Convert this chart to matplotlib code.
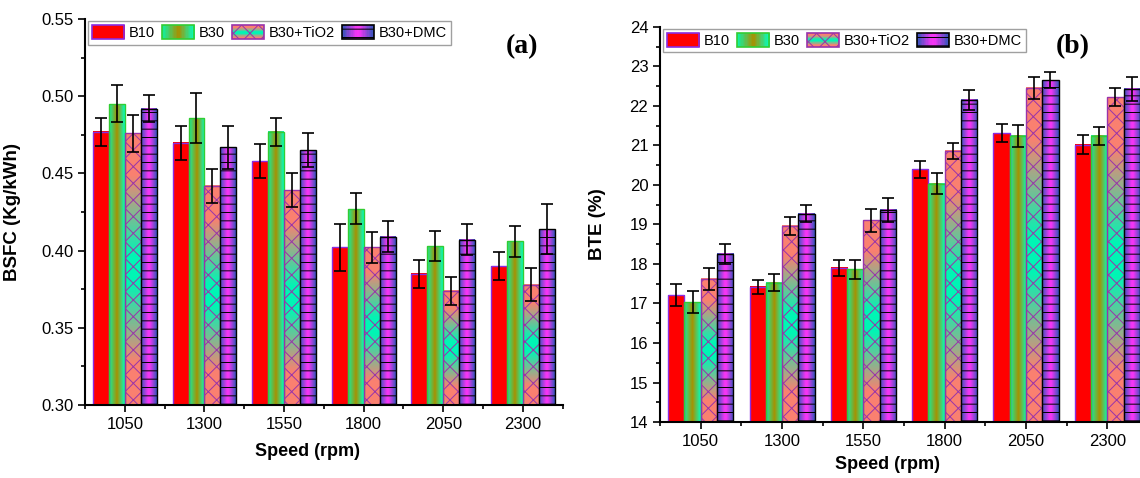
import numpy as np
import matplotlib.pyplot as plt
from matplotlib.colors import to_rgb
from matplotlib.patches import Rectangle
from matplotlib.legend_handler import HandlerBase

plt.rcParams['font.family'] = ['Liberation Sans', 'DejaVu Sans']
plt.rcParams['hatch.linewidth'] = 0.7

speeds = ['1050', '1300', '1550', '1800', '2050', '2300']
fuels = ['B10', 'B30', 'B30+TiO2', 'B30+DMC']

# (a) BSFC, kg/kWh
bsfc_b10 = [0.477, 0.470, 0.458, 0.402, 0.385, 0.390]
bsfc_b30 = [0.495, 0.486, 0.477, 0.427, 0.403, 0.406]
bsfc_tio2 = [0.476, 0.442, 0.439, 0.402, 0.374, 0.378]
bsfc_dmc = [0.492, 0.467, 0.465, 0.409, 0.407, 0.414]
bsfc_err_b10 = [0.009, 0.011, 0.011, 0.015, 0.009, 0.009]
bsfc_err_b30 = [0.012, 0.016, 0.009, 0.010, 0.010, 0.010]
bsfc_err_tio2 = [0.012, 0.011, 0.011, 0.010, 0.009, 0.011]
bsfc_err_dmc = [0.009, 0.014, 0.011, 0.010, 0.010, 0.016]

# (b) BTE, %
bte_b10 = [17.21, 17.42, 17.90, 20.39, 21.31, 21.02]
bte_b30 = [17.03, 17.53, 17.86, 20.03, 21.24, 21.24]
bte_tio2 = [17.62, 18.97, 19.10, 20.86, 22.46, 22.22]
bte_dmc = [18.25, 19.27, 19.37, 22.15, 22.65, 22.43]
bte_err_b10 = [0.28, 0.17, 0.20, 0.21, 0.22, 0.23]
bte_err_b30 = [0.28, 0.22, 0.24, 0.26, 0.27, 0.23]
bte_err_tio2 = [0.29, 0.23, 0.30, 0.21, 0.28, 0.23]
bte_err_dmc = [0.25, 0.21, 0.30, 0.26, 0.21, 0.30]

# fill style per fuel: colour stops, vertical?, hatch, edge colour
styles = [
    ([(0, '#ff0000'), (1, '#ff0000')], False, None, '#8a2be2'),
    ([(0, '#10f0a0'), (0.5, '#a89000'), (1, '#00ffc0')], False, None, '#33cc33'),
    ([(0, '#fa8070'), (0.15, '#fa8070'), (0.45, '#00f5b5'), (0.55, '#00f5b5'),
      (0.85, '#fa8070'), (1, '#fa8070')], True, 'xx', '#9933aa'),
    ([(0, '#3355bb'), (0.45, '#f535f5'), (0.55, '#f535f5'), (1, '#3355bb')], False, '--', 'black'),
]


def gradient(stops, vertical, n=100):
    pos = [s[0] for s in stops]
    cols = np.array([to_rgb(s[1]) for s in stops])
    t = np.linspace(0, 1, n)
    rgb = np.stack([np.interp(t, pos, cols[:, k]) for k in range(3)], axis=-1)
    return rgb[:, None, :] if vertical else rgb[None, :, :]


class Swatch:
    def __init__(self, style):
        self.style = style


class SwatchHandler(HandlerBase):
    def create_artists(self, legend, orig_handle, xdescent, ydescent,
                       width, height, fontsize, trans):
        stops, vertical, hatch, edge = orig_handle.style
        n = 24
        img = gradient(stops, vertical, n)
        arts = []
        for k in range(n):
            c = img[k, 0] if vertical else img[0, k]
            if vertical:
                r = Rectangle((-xdescent, -ydescent + height * k / n), width, height / n + 0.3,
                              facecolor=c, edgecolor='none', transform=trans)
            else:
                r = Rectangle((-xdescent + width * k / n, -ydescent), width / n + 0.3, height,
                              facecolor=c, edgecolor='none', transform=trans)
            arts.append(r)
        arts.append(Rectangle((-xdescent, -ydescent), width, height, facecolor='none',
                              edgecolor=edge, hatch=hatch, linewidth=1.2, transform=trans))
        return arts


def draw_panel(ax, series, errors, ylim, yticks, yminor, ylabel, tag):
    x0 = np.arange(len(speeds))
    for j, (vals, errs) in enumerate(zip(series, errors)):
        stops, vertical, hatch, edge = styles[j]
        vals = np.array(vals)
        x = x0 + (j - 1.5) * 0.2
        bars = ax.bar(x, vals - ylim[0], 0.2, bottom=ylim[0], facecolor='none',
                      edgecolor=edge, hatch=hatch, linewidth=1.0, zorder=2)
        img = gradient(stops, vertical)
        for b in bars:
            ax.imshow(img, extent=(b.get_x(), b.get_x() + b.get_width(),
                                   b.get_y(), b.get_y() + b.get_height()),
                      aspect='auto', origin='lower', interpolation='bilinear', zorder=1)
        ax.errorbar(x, vals, yerr=errs, fmt='none', ecolor='black', elinewidth=1.2,
                    capsize=4, capthick=1.2, zorder=4)
    ax.set_xlim(-0.5, 5.5)
    ax.set_ylim(*ylim)
    ax.set_xticks(x0, speeds)
    ax.set_xticks(np.arange(-0.5, 6, 1), minor=True)
    ax.set_yticks(yticks)
    ax.set_yticks(yminor, minor=True)
    ax.spines['top'].set_visible(False)
    ax.spines['right'].set_visible(False)
    ax.spines['left'].set_linewidth(1.5)
    ax.spines['bottom'].set_linewidth(1.5)
    ax.tick_params(which='major', length=5, width=1.2, labelsize=12)
    ax.tick_params(which='minor', length=3, width=1.2)
    ax.set_xlabel('Speed (rpm)', fontsize=13, fontweight='bold')
    ax.set_ylabel(ylabel, fontsize=13.5, fontweight='bold')
    ax.text(0.915, 0.93, tag, transform=ax.transAxes, fontsize=20, fontweight='bold',
            family='Liberation Serif', ha='center', va='center')
    ax.legend([Swatch(s) for s in styles], fuels, handler_map={Swatch: SwatchHandler()},
              loc='upper left', bbox_to_anchor=(0.006, 0.995), ncol=4, fontsize=10.5,
              handlelength=2.2, handleheight=1.1, handletextpad=0.3, columnspacing=0.5,
              borderpad=0.3, borderaxespad=0, fancybox=False, edgecolor='#a0a0a0',
              framealpha=1)


fig = plt.figure(figsize=(11.4, 4.78), dpi=100)
ax1 = fig.add_axes([0.0746, 0.153, 0.419, 0.807])
ax2 = fig.add_axes([0.579, 0.117, 0.428, 0.827])

draw_panel(ax1, [bsfc_b10, bsfc_b30, bsfc_tio2, bsfc_dmc],
           [bsfc_err_b10, bsfc_err_b30, bsfc_err_tio2, bsfc_err_dmc],
           (0.30, 0.55), np.arange(0.30, 0.5501, 0.05), np.arange(0.325, 0.55, 0.05),
           'BSFC (Kg/kWh)', '(a)')
ax1.set_yticklabels(['%.2f' % v for v in np.arange(0.30, 0.5501, 0.05)])
ax1.yaxis.set_label_coords(-0.135, 0.5)
ax1.xaxis.set_label_coords(0.465, -0.1)

draw_panel(ax2, [bte_b10, bte_b30, bte_tio2, bte_dmc],
           [bte_err_b10, bte_err_b30, bte_err_tio2, bte_err_dmc],
           (14, 24), np.arange(14, 25, 1), np.arange(14.5, 24, 1),
           'BTE (%)', '(b)')
ax2.yaxis.set_label_coords(-0.11, 0.5)
ax2.xaxis.set_label_coords(0.467, -0.085)
ax2.texts[0].set_position((0.845, 0.95))

fig.savefig('out.png', dpi=100)
